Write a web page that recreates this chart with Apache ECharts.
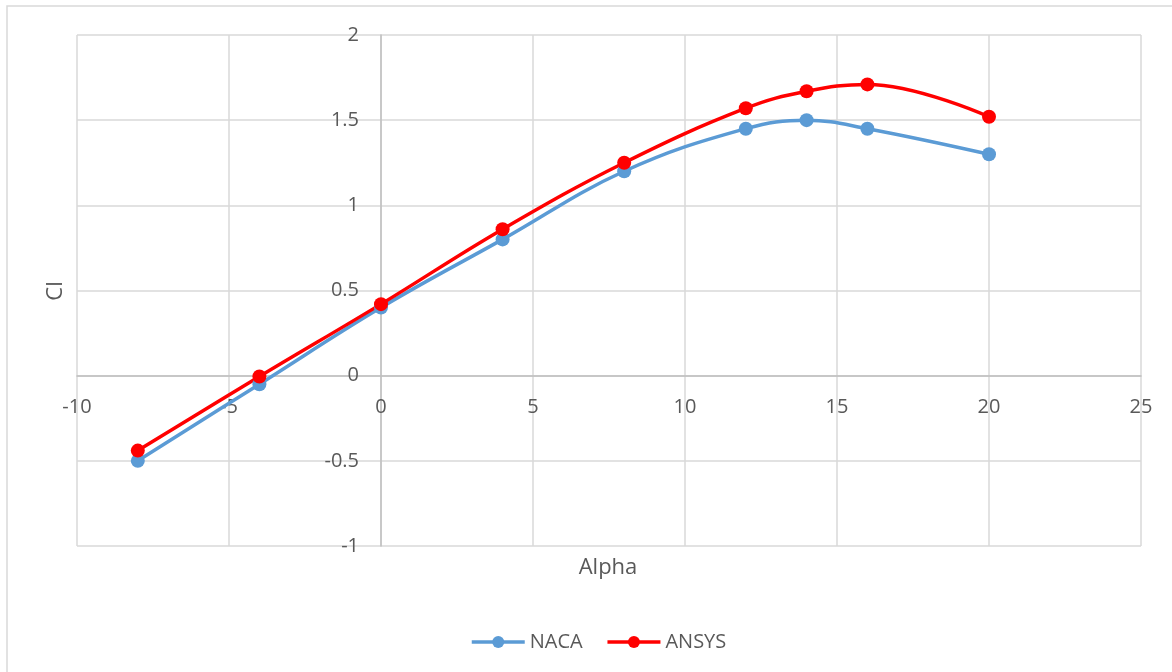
<!DOCTYPE html>
<html>
<head>
<meta charset="utf-8">
<script src="https://cdn.jsdelivr.net/npm/echarts@6/dist/echarts.min.js"></script>
<style>
html,body{margin:0;padding:0;background:#fff;}
#chart{width:1172px;height:672px;}
</style>
</head>
<body>
<div id="chart"></div>
<script>
const alpha = [-8, -4, 0, 4, 8, 12, 14, 16, 20];
const naca = [-0.5, -0.05, 0.40, 0.80, 1.20, 1.45, 1.50, 1.45, 1.30];
const ansys = [-0.44, -0.005, 0.42, 0.86, 1.25, 1.57, 1.67, 1.71, 1.52];
const seriesNames = ['NACA', 'ANSYS'];
const xTitle = 'Alpha';
const yTitle = 'Cl';

const font = '"Open Sans", "Noto Sans", sans-serif';
const labelColor = '#595959';
const G = {left: 77, right: 31, top: 35, bottom: 126};

const chart = echarts.init(document.getElementById('chart'), null, {renderer: 'canvas'});
const pairs = arr => alpha.map((a, i) => [a, arr[i]]);

chart.setOption({
  animation: false,
  backgroundColor: '#fff',
  grid: Object.assign({containLabel: false}, G),
  xAxis: {
    type: 'value', min: -10, max: 25, interval: 5, position: 'bottom',
    axisLine: {show: true, onZero: false, lineStyle: {color: '#bfbfbf', width: 1.5}},
    axisTick: {show: false},
    splitLine: {show: true, lineStyle: {color: '#d9d9d9', width: 1.5}},
    axisLabel: {color: labelColor, fontSize: 20, fontFamily: font, margin: 22}
  },
  yAxis: {
    type: 'value', min: -1, max: 2, interval: 0.5, position: 'left',
    axisLine: {show: true, onZero: false, lineStyle: {color: '#bfbfbf', width: 1.5}},
    axisTick: {show: false},
    splitLine: {show: true, lineStyle: {color: '#d9d9d9', width: 1.5}},
    axisLabel: {color: labelColor, fontSize: 20, fontFamily: font, margin: 22}
  },
  legend: {
    top: 627, left: 465, itemWidth: 53, itemHeight: 15, itemGap: 23,
    textStyle: {color: labelColor, fontSize: 20, fontFamily: font},
    lineStyle: {width: 3.5},
    data: seriesNames
  },
  graphic: [
    {type: 'rect', silent: true, z: -1, shape: {x: 7, y: 6, width: 1200, height: 700},
     style: {fill: 'none', stroke: '#d9d9d9', lineWidth: 1.5}},
    {type: 'text', x: 608, y: 568, style: {text: xTitle, fill: labelColor, font: '22px ' + font, align: 'center', verticalAlign: 'middle'}},
    {type: 'text', x: 56, y: 291, rotation: Math.PI / 2, style: {text: yTitle, fill: labelColor, font: '22px ' + font, align: 'center', verticalAlign: 'middle'}}
  ],
  series: [
    {name: seriesNames[0], type: 'line', data: pairs(naca), smooth: 0.4,
     symbol: 'circle', symbolSize: 14,
     lineStyle: {color: '#5b9bd5', width: 3.5},
     itemStyle: {color: '#5b9bd5'}},
    {name: seriesNames[1], type: 'line', data: pairs(ansys), smooth: 0.4,
     symbol: 'circle', symbolSize: 14,
     lineStyle: {color: '#ff0000', width: 3.5},
     itemStyle: {color: '#ff0000'}}
  ]
});

// place both axes (line + labels) at the origin, like Excel's crossing axes
const origin = chart.convertToPixel({gridIndex: 0}, [0, 0]);
const H = chart.getHeight();
chart.setOption({
  xAxis: {offset: -((H - G.bottom) - origin[1])},
  yAxis: {offset: -(origin[0] - G.left)}
});
</script>
</body>
</html>
